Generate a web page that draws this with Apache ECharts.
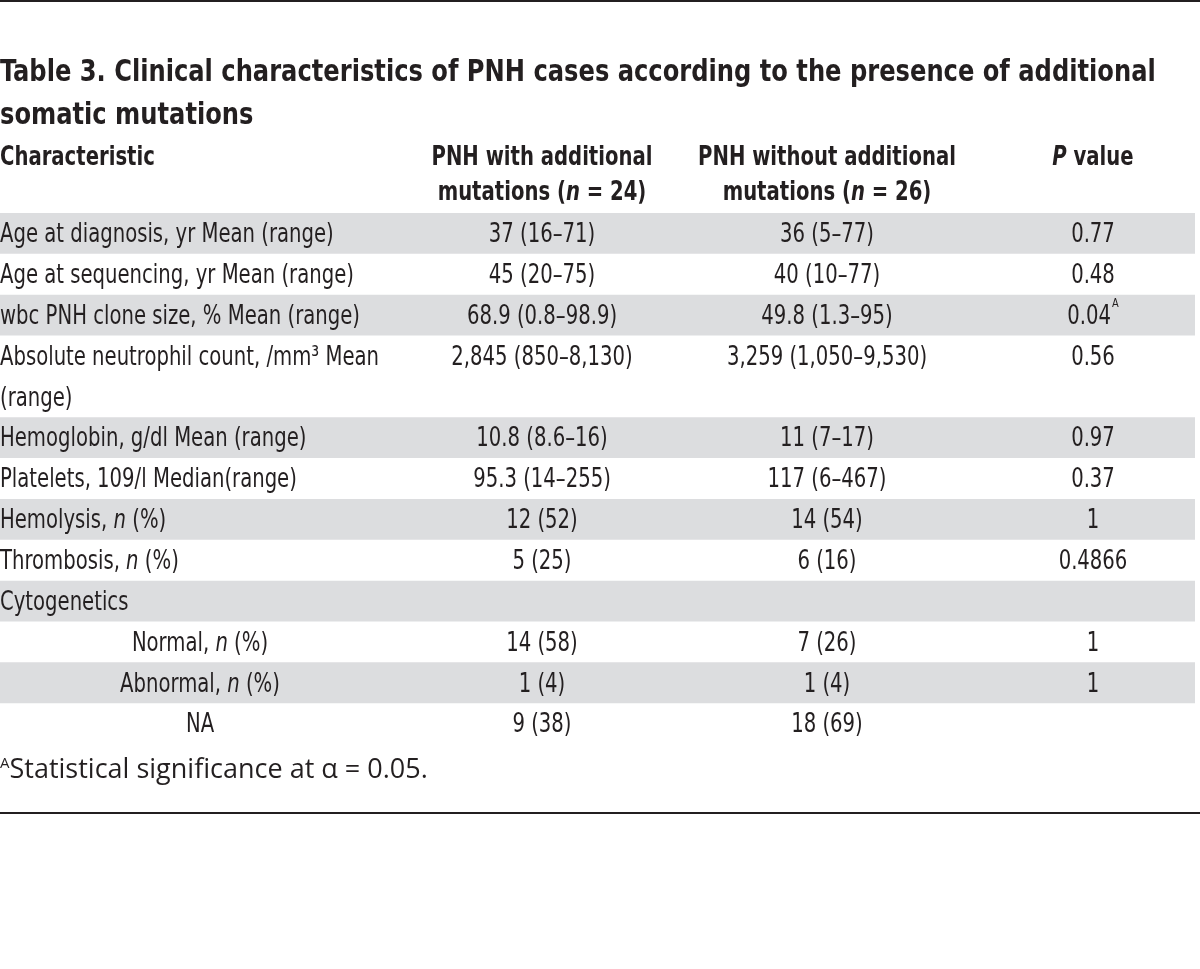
<!DOCTYPE html>
<html>
<head>
<meta charset="utf-8">
<script src="https://cdn.jsdelivr.net/npm/echarts@6/dist/echarts.min.js"></script>
<style>
  html, body { margin: 0; padding: 0; background: #ffffff; }
  #chart { width: 1200px; height: 969px; }
</style>
</head>
<body>
<div id="chart"></div>
<script>
// ---------- DATA ----------
const titleLines = [
  "Table 3. Clinical characteristics of PNH cases according to the presence of additional",
  "somatic mutations"
];
const headerCharacteristic = ["Characteristic"];
const headerWith = ["PNH with additional", "mutations ({i|n} = 24)"];
const headerWithout = ["PNH without additional", "mutations ({i|n} = 26)"];
const headerP = ["{i|P} value"];

const characteristics = [
  "Age at diagnosis, yr Mean (range)",
  "Age at sequencing, yr Mean (range)",
  "wbc PNH clone size, % Mean (range)",
  "Absolute neutrophil count, /mm³ Mean\n(range)",
  "Hemoglobin, g/dl Mean (range)",
  "Platelets, 109/l Median(range)",
  "Hemolysis, {i|n} (%)",
  "Thrombosis, {i|n} (%)",
  "Cytogenetics",
  "Normal, {i|n} (%)",
  "Abnormal, {i|n} (%)",
  "NA"
];
const withMutations = [
  "37 (16–71)", "45 (20–75)", "68.9 (0.8–98.9)", "2,845 (850–8,130)",
  "10.8 (8.6–16)", "95.3 (14–255)", "12 (52)", "5 (25)", "",
  "14 (58)", "1 (4)", "9 (38)"
];
const withoutMutations = [
  "36 (5–77)", "40 (10–77)", "49.8 (1.3–95)", "3,259 (1,050–9,530)",
  "11 (7–17)", "117 (6–467)", "14 (54)", "6 (16)", "",
  "7 (26)", "1 (4)", "18 (69)"
];
const pValues = [
  "0.77", "0.48", "0.04{sup|A}", "0.56",
  "0.97", "0.37", "1", "0.4866", "",
  "1", "1", ""
];
const footnote = "{sup|A}Statistical significance at α = 0.05.";

// ---------- LAYOUT (not data) ----------
const rowLines = characteristics.map(s => s.split("\n").length);
const isSubRow = characteristics.map((_, i) => i >= 9);
const offsets = [];
{ let acc = 0; rowLines.forEach(n => { offsets.push(acc); acc += n; }); }
const totalLines = rowLines.reduce((a, b) => a + b, 0);

const TEXT = "#231f20";
const SHADE = "#dcdddf";
const BODY_FONT = "'DejaVu Sans Condensed', 'DejaVu Sans', sans-serif";
const BODY_SIZE = 26;
const HEAD_SIZE = 26;
const TITLE_SIZE = 31;
const BODY_SCALE = 0.84;
const TITLE_SCALE = 0.867;
const colX = { c1: 0, sub: 200, c2: 542, c3: 827, c4: 1093, shadeEnd: 1195 };
const tableTop = 213, lineUnit = 40.85;

function rich(size, weight) {
  return {
    i: { fontStyle: "italic", fontSize: size, fontFamily: BODY_FONT, fontWeight: weight, fill: TEXT },
    sup: { fontSize: Math.round(size * 0.5), fontFamily: BODY_FONT, fill: TEXT, verticalAlign: "top", padding: [0, 0, 0, 1] }
  };
}

function txt(x, y, text, opts) {
  opts = opts || {};
  const size = opts.size || BODY_SIZE;
  const weight = opts.weight || "normal";
  return {
    type: "text",
    x: x, y: y,
    scaleX: opts.scaleX || BODY_SCALE,
    style: {
      text: text,
      fill: TEXT,
      fontSize: size,
      fontWeight: weight,
      fontFamily: opts.family || BODY_FONT,
      align: opts.align || "left",
      verticalAlign: "middle",
      lineHeight: opts.lineHeight || lineUnit,
      rich: rich(size, weight)
    }
  };
}

const graphics = [];
// top & bottom rules
graphics.push({ type: "rect", shape: { x: 0, y: 0, width: 1200, height: 2 }, style: { fill: TEXT } });
graphics.push({ type: "rect", shape: { x: 0, y: 812, width: 1200, height: 2 }, style: { fill: TEXT } });
// title
titleLines.forEach((t, k) => graphics.push(txt(0, 73 + k * 43, t, { size: TITLE_SIZE, weight: "bold", scaleX: TITLE_SCALE })));
// headers
const headY = 158, headStep = 35;
headerCharacteristic.forEach((t, k) => graphics.push(txt(colX.c1, headY + k * headStep, t, { size: HEAD_SIZE, weight: "bold" })));
headerWith.forEach((t, k) => graphics.push(txt(colX.c2, headY + k * headStep, t, { size: HEAD_SIZE, weight: "bold", align: "center" })));
headerWithout.forEach((t, k) => graphics.push(txt(colX.c3, headY + k * headStep, t, { size: HEAD_SIZE, weight: "bold", align: "center" })));
headerP.forEach((t, k) => graphics.push(txt(colX.c4, headY + k * headStep, t, { size: HEAD_SIZE, weight: "bold", align: "center" })));
// footnote
graphics.push({
  type: "text", x: 0, y: 770,
  style: {
    text: footnote, fill: TEXT, fontSize: 27, fontFamily: "'Open Sans', sans-serif",
    verticalAlign: "middle", align: "left",
    rich: { sup: { fontSize: 15, fontFamily: "'Open Sans', sans-serif", fill: TEXT, verticalAlign: "top" } }
  }
});

// ---------- CHART ----------
const chart = echarts.init(document.getElementById("chart"), null, { renderer: "canvas" });
const rowData = characteristics.map((_, i) => [offsets[i], rowLines[i]]);

chart.setOption({
  backgroundColor: "#ffffff",
  animation: false,
  grid: { left: 0, right: 0, top: tableTop, height: lineUnit * totalLines },
  xAxis: { type: "value", min: 0, max: 1200, show: false },
  yAxis: { type: "value", min: 0, max: totalLines, inverse: true, show: false },
  graphic: graphics,
  series: [{
    type: "custom",
    coordinateSystem: "cartesian2d",
    data: rowData,
    silent: true,
    renderItem: function (params, api) {
      const i = params.dataIndex;
      const y0 = api.value(0), n = api.value(1);
      const pTop = api.coord([0, y0]);
      const pBot = api.coord([colX.shadeEnd, y0 + n]);
      const children = [];
      if (i % 2 === 0) {
        children.push({ type: "rect", shape: { x: pTop[0], y: pTop[1], width: pBot[0] - pTop[0], height: pBot[1] - pTop[1] }, style: { fill: SHADE } });
      }
      const lineMid = y0 + 0.5;
      const xFirst = isSubRow[i] ? colX.sub : colX.c1;
      const pFirst = api.coord([xFirst, lineMid]);
      const first = txt(pFirst[0], pFirst[1], characteristics[i], { align: isSubRow[i] ? "center" : "left" });
      first.style.verticalAlign = "top";
      first.y = pTop[1] + 2;
      children.push(first);
      [[colX.c2, withMutations[i]], [colX.c3, withoutMutations[i]], [colX.c4, pValues[i]]].forEach(function (c) {
        if (!c[1]) return;
        const p = api.coord([c[0], lineMid]);
        children.push(txt(p[0], p[1] + 2, c[1], { align: "center" }));
      });
      return { type: "group", children: children };
    }
  }]
});
</script>
</body>
</html>
